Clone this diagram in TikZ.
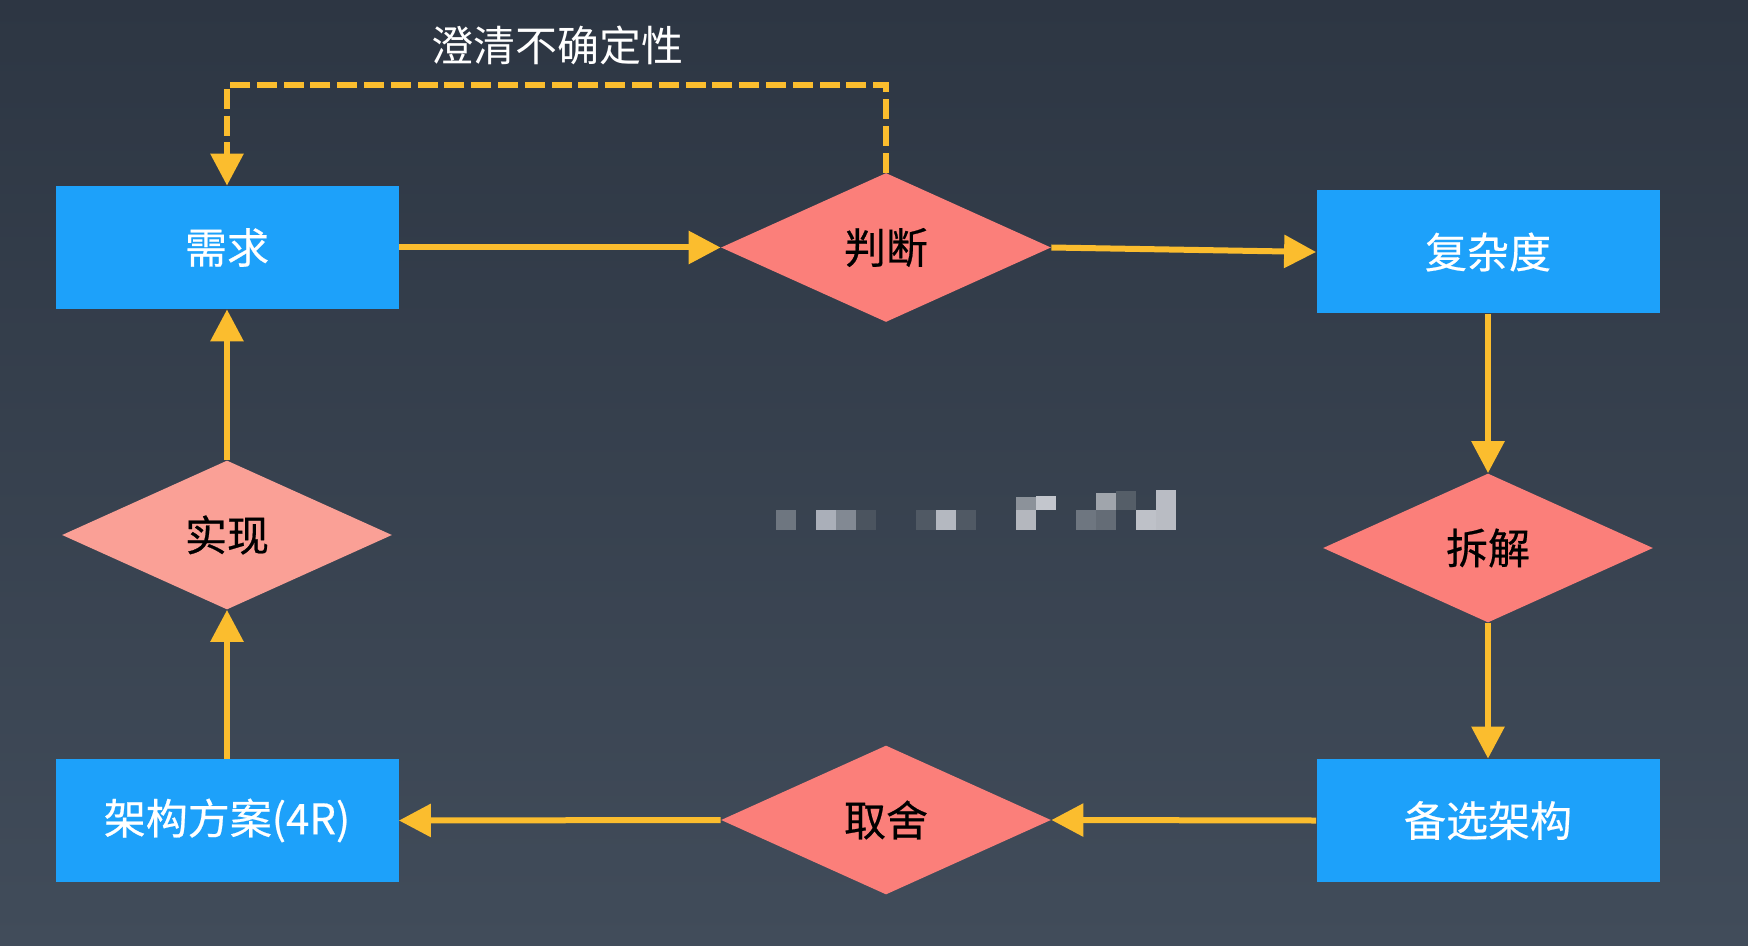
\documentclass[tikz,border=0pt]{standalone}
\usepackage{fontspec}
\setmainfont{Noto Sans CJK SC}
\newfontfamily\medfont{Noto Sans CJK SC}[FakeBold=0.5]
\usetikzlibrary{shapes.geometric,arrows.meta}
\definecolor{bgtop}{RGB}{45,54,67}
\definecolor{bgbot}{RGB}{65,76,90}
\definecolor{boxblue}{RGB}{29,161,250}
\definecolor{decred}{RGB}{251,127,122}
\definecolor{decpink}{RGB}{250,160,150}
\definecolor{arrowyellow}{RGB}{251,189,46}
\begin{document}
\begin{tikzpicture}[x=0.5pt,y=-0.5pt,
  lbl/.style={font=\medfont\fontsize{21}{21}\selectfont},
  stepbox/.style={rectangle, fill=boxblue, text=white, lbl,
    minimum width=171.5pt, minimum height=61.5pt, inner sep=0pt},
  decision/.style={diamond, fill=decred, text=black, lbl,
    minimum width=165pt, minimum height=74.5pt, inner sep=0pt, aspect=2.2},
  flowline/.style={draw=arrowyellow, line width=3pt,
    -{Triangle[width=16pt,length=16pt]}},
  loopline/.style={flowline, dash pattern=on 10pt off 3.4pt},
]
% background
\shade[top color=bgtop, bottom color=bgbot] (0,0) rectangle (1748,946);
\useasboundingbox (0,0) rectangle (1748,946);

% process boxes
\node[stepbox] (req)  at (227,247.5)  {需求};
\node[stepbox] (cx)   at (1488,252)   {复杂度};
\node[stepbox] (alt)  at (1488,820.5) {备选架构};
\node[stepbox] (plan) at (227,820.5)  {架构方案(4R)};

% decisions
\node[decision] (judge) at (886,247.5) {判断};
\node[decision] (split) at (1488,548)  {拆解};
\node[decision] (trade) at (886,820)   {取舍};
\node[decision, fill=decpink] (impl) at (227,535) {实现};

% loop label
\node[font=\fontsize{21}{21}\selectfont, text=white] (clarify) at (557,45) {澄清不确定性};

% main cycle
\draw[flowline] (req.east) -- (judge.west);
\draw[flowline] (judge.east) -- (cx.west);
\draw[flowline] (cx.south) -- (split.north);
\draw[flowline] (split.south) -- (alt.north);
\draw[flowline] (alt.west) -- (trade.east);
\draw[flowline] (trade.west) -- (plan.east);
\draw[flowline] (plan.north) -- (impl.south);
\draw[flowline] (impl.north) -- (req.south);

% feedback loop
\coordinate (loopR) at (886,85);
\coordinate (loopL) at (227,85);
\draw[loopline] (judge.north) -- (loopR) -- (loopL) -- (req.north);

% mosaic mark
\fill[fill={rgb,255:red,110;green,118;blue,128}] (776,510) rectangle (796,530);
\fill[fill={rgb,255:red,170;green,175;blue,185}] (816,510) rectangle (836,530);
\fill[fill={rgb,255:red,130;green,137;blue,147}] (836,510) rectangle (856,530);
\fill[fill={rgb,255:red,75;green,84;blue,95}] (856,510) rectangle (876,530);
\fill[fill={rgb,255:red,80;green,89;blue,100}] (916,510) rectangle (936,530);
\fill[fill={rgb,255:red,180;green,184;blue,192}] (936,510) rectangle (956,530);
\fill[fill={rgb,255:red,80;green,89;blue,100}] (956,510) rectangle (976,530);
\fill[fill={rgb,255:red,180;green,183;blue,190}] (1016,510) rectangle (1036,530);
\fill[fill={rgb,255:red,140;green,146;blue,154}] (1016,497) rectangle (1036,510);
\fill[fill={rgb,255:red,195;green,198;blue,205}] (1036,496) rectangle (1056,510);
\fill[fill={rgb,255:red,110;green,118;blue,128}] (1076,510) rectangle (1096,530);
\fill[fill={rgb,255:red,100;green,108;blue,118}] (1096,510) rectangle (1116,530);
\fill[fill={rgb,255:red,160;green,165;blue,172}] (1096,493) rectangle (1116,510);
\fill[fill={rgb,255:red,85;green,94;blue,104}] (1116,491) rectangle (1136,510);
\fill[fill={rgb,255:red,190;green,193;blue,200}] (1136,510) rectangle (1156,530);
\fill[fill={rgb,255:red,185;green,188;blue,195}] (1156,510) rectangle (1176,530);
\fill[fill={rgb,255:red,185;green,188;blue,196}] (1156,490) rectangle (1176,510);
\end{tikzpicture}
\end{document}
